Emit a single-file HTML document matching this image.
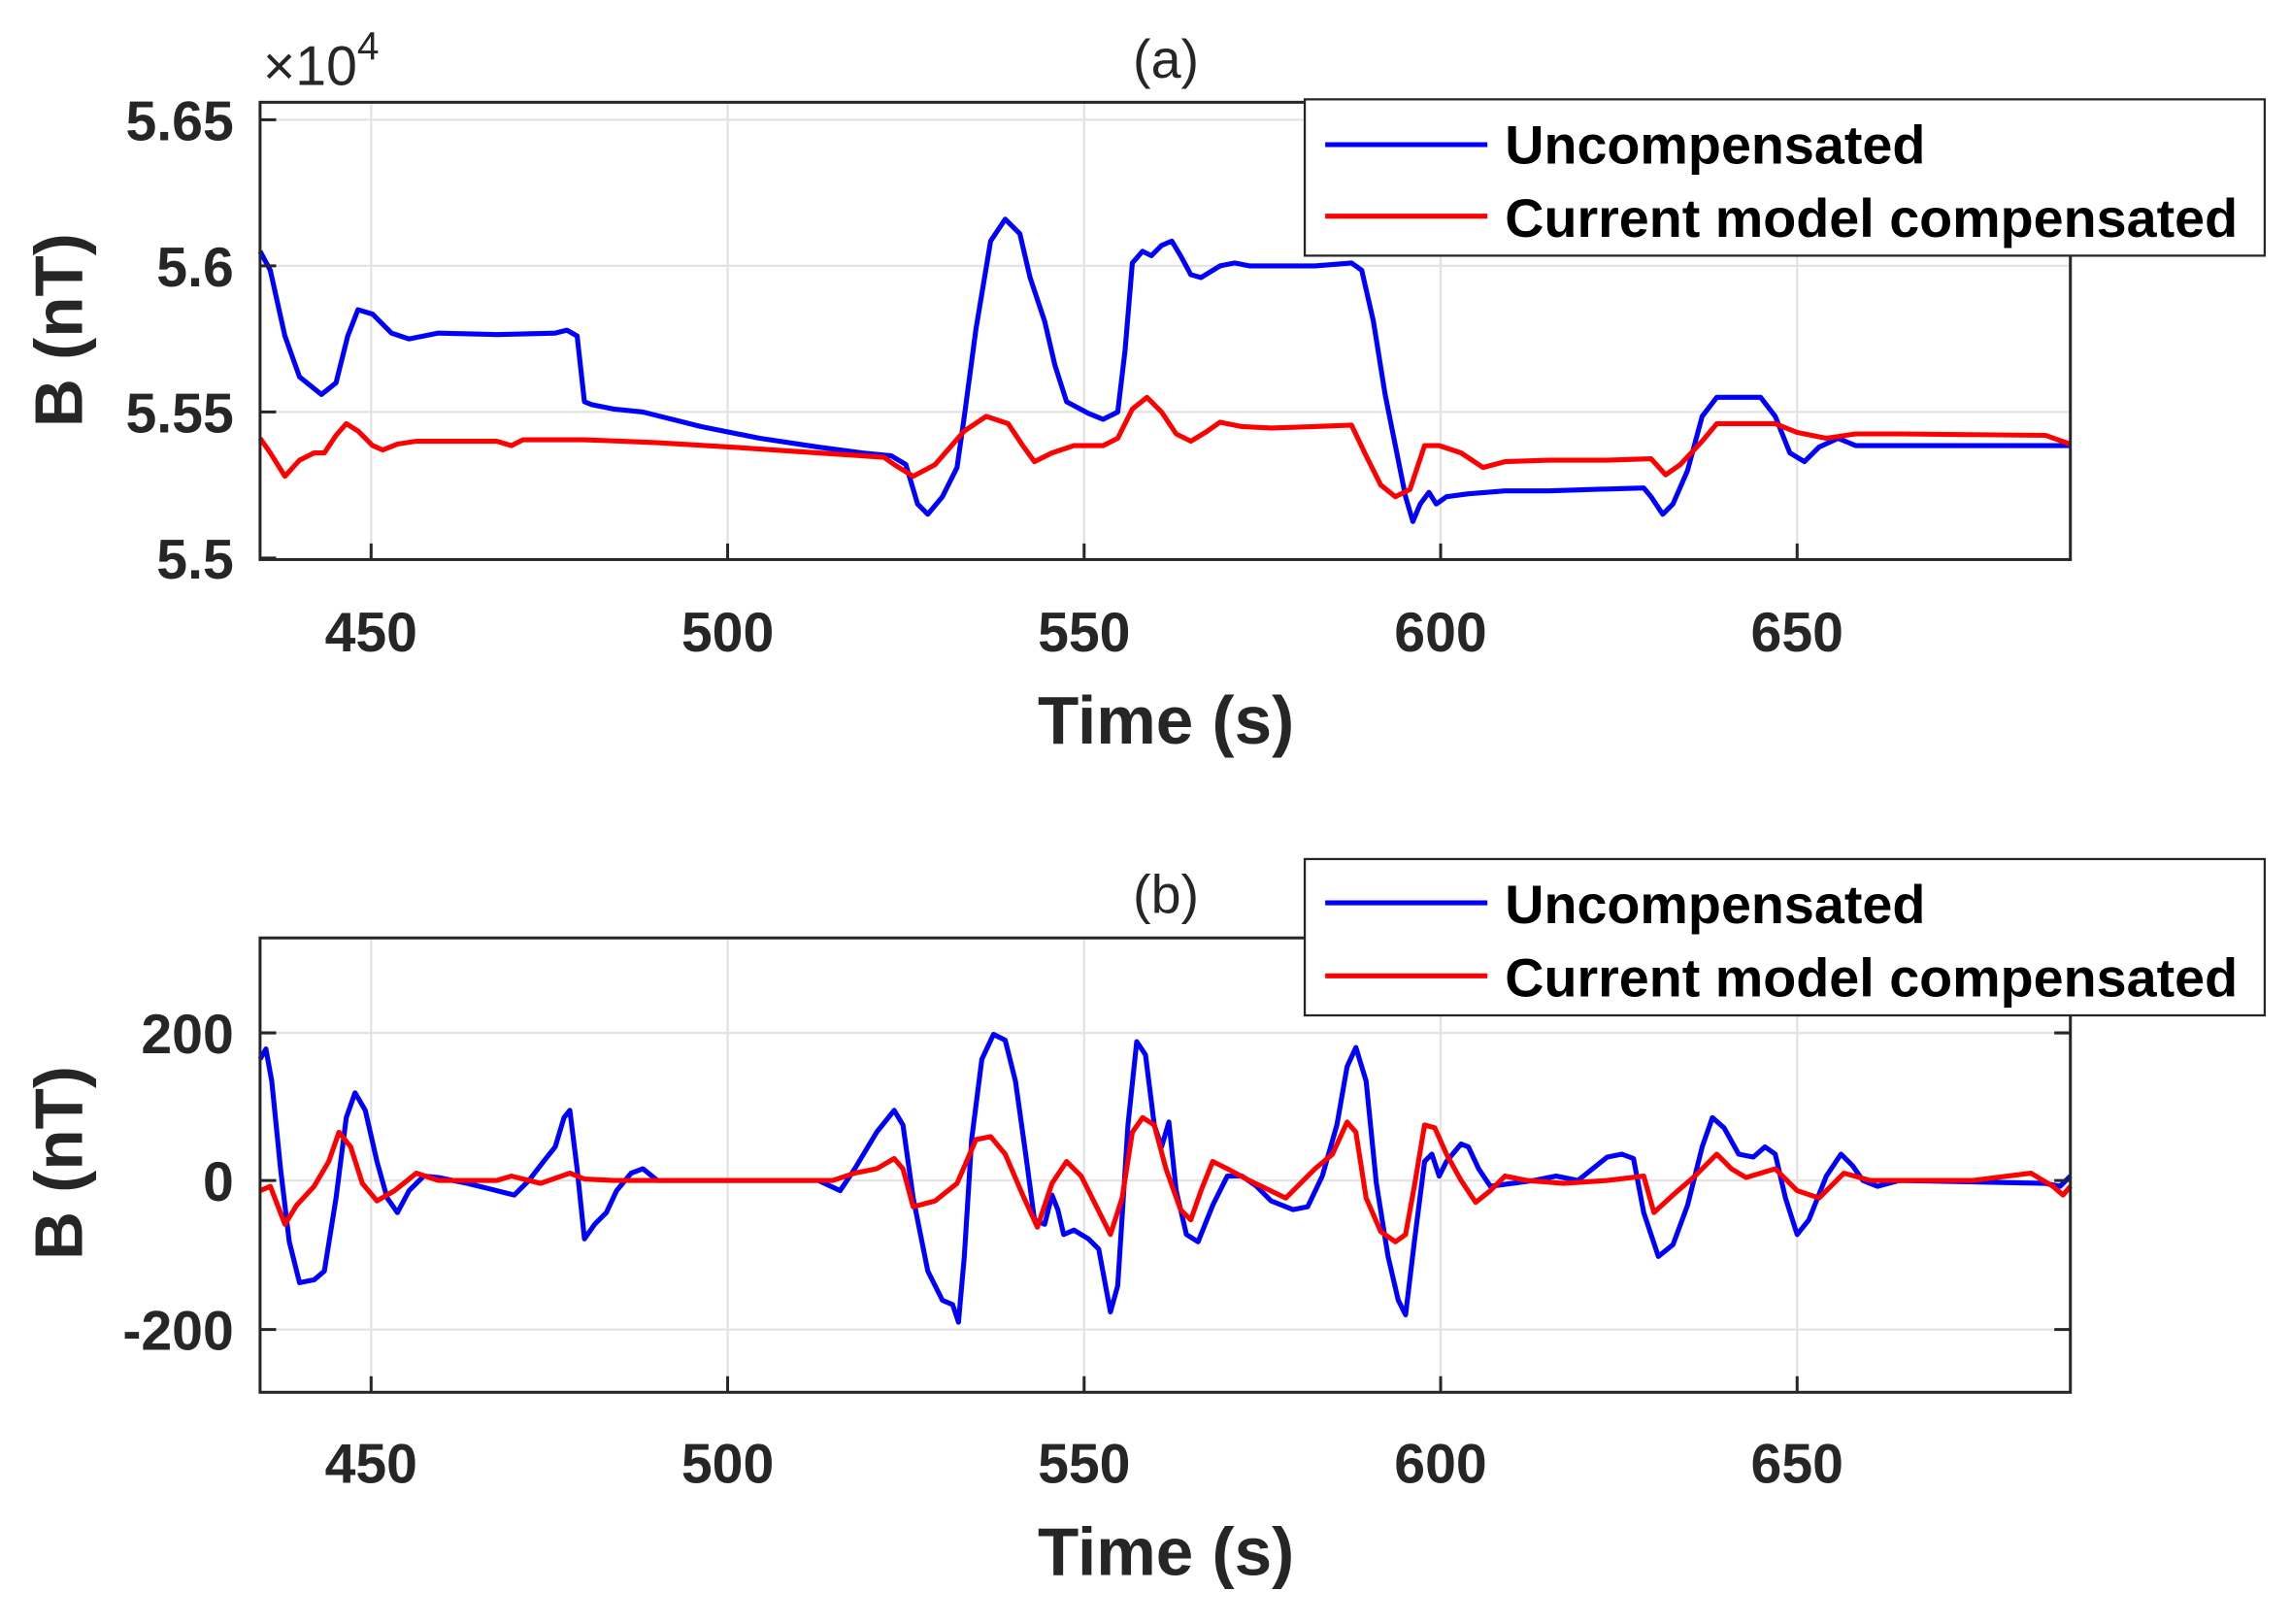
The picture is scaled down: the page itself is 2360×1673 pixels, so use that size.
<!DOCTYPE html>
<html><head><meta charset="utf-8"><style>
html,body{margin:0;padding:0;background:#fff;}
svg{display:block;}
text{font-family:"Liberation Sans",Arial,sans-serif;fill:#262626;}
.t{font-size:38px;font-weight:bold;}
.l{font-size:46px;font-weight:bold;}
.g{font-size:37px;font-weight:bold;fill:#000;}
</style></head><body>
<svg width="2360" height="1673" viewBox="0 0 1568 1111.6" preserveAspectRatio="none" xmlns="http://www.w3.org/2000/svg">
<rect width="1568" height="1112" fill="#fff"/>
<!-- TOP PLOT -->
<g stroke="#e3e3e3" stroke-width="1.5">
<line x1="254" y1="70" x2="254" y2="383"/><line x1="498" y1="70" x2="498" y2="383"/><line x1="742" y1="70" x2="742" y2="383"/><line x1="986" y1="70" x2="986" y2="383"/><line x1="1230" y1="70" x2="1230" y2="383"/>
<line x1="178" y1="82" x2="1417" y2="82"/><line x1="178" y1="182" x2="1417" y2="182"/><line x1="178" y1="282" x2="1417" y2="282"/>
</g>
<polyline fill="none" stroke="#0000ff" stroke-width="3.4" stroke-linejoin="round" points="178,172 185,185 195,230 205,258 220,270 230,262 238,230 245,212 255,215 268,228 280,232 300,228 340,229 380,228 388,226 395,230 400,275 405,277 420,280 440,282 480,292 520,300 560,306 590,310 610,312 620,318 628,345 635,352 645,340 655,320 660,285 668,225 678,165 688,150 698,160 705,190 715,220 722,250 730,275 745,283 755,287 765,282 770,240 775,180 782,172 788,175 795,168 802,165 808,175 815,188 822,190 835,182 845,180 855,182 870,182 900,182 925,180 932,185 940,220 948,270 955,305 962,340 967,357 972,345 978,337 983,345 990,340 1005,338 1030,336 1060,336 1090,335 1125,334 1130,340 1138,352 1145,345 1155,322 1165,285 1175,272 1205,272 1215,285 1225,310 1235,316 1245,306 1258,300 1270,305 1300,305 1400,305 1417,305"/>
<polyline fill="none" stroke="#ff0000" stroke-width="3.4" stroke-linejoin="round" points="178,300 185,310 195,326 205,315 215,310 222,310 230,298 237,290 245,295 255,305 262,308 272,304 285,302 340,302 350,305 358,301 400,301 450,303 500,306 560,310 605,313 612,318 625,326 640,318 660,295 675,285 690,290 700,305 708,316 720,310 735,305 755,305 765,300 775,280 785,272 795,282 805,297 815,302 825,296 835,289 850,292 870,293 900,292 925,291 935,312 945,332 955,340 965,335 975,305 985,305 1000,310 1015,320 1030,316 1060,315 1100,315 1130,314 1140,325 1150,318 1165,302 1175,290 1200,290 1215,290 1230,296 1250,300 1270,297 1300,297 1400,298 1417,304"/>
<rect x="178" y="70" width="1239" height="313" fill="none" stroke="#262626" stroke-width="2"/>
<g stroke="#262626" stroke-width="2">
<line x1="254" y1="383" x2="254" y2="372"/><line x1="498" y1="383" x2="498" y2="372"/><line x1="742" y1="383" x2="742" y2="372"/><line x1="986" y1="383" x2="986" y2="372"/><line x1="1230" y1="383" x2="1230" y2="372"/>
<line x1="178" y1="82" x2="189" y2="82"/><line x1="178" y1="182" x2="189" y2="182"/><line x1="178" y1="282" x2="189" y2="282"/><line x1="178" y1="382" x2="189" y2="382"/>
</g>
<g text-anchor="end">
<text x="160" y="96" class="t">5.65</text><text x="160" y="196" class="t">5.6</text><text x="160" y="296" class="t">5.55</text><text x="160" y="396" class="t">5.5</text>
</g>
<g text-anchor="middle">
<text x="254" y="446" class="t">450</text><text x="498" y="446" class="t">500</text><text x="742" y="446" class="t">550</text><text x="986" y="446" class="t">600</text><text x="1230" y="446" class="t">650</text>
<text x="798" y="509" class="l">Time (s)</text>
<text x="798" y="53" style="font-size:37px">(a)</text>
</g>
<text x="180" y="58" style="font-size:38px">×10<tspan dy="-17" style="font-size:27px">4</tspan></text>
<text transform="translate(56,226) rotate(-90)" text-anchor="middle" class="l">B (nT)</text>
<rect x="893" y="68" width="657" height="107" fill="#fff" stroke="#262626" stroke-width="1.5"/>
<line x1="907" y1="99" x2="1018" y2="99" stroke="#0000ff" stroke-width="3.4"/>
<line x1="907" y1="148" x2="1018" y2="148" stroke="#ff0000" stroke-width="3.4"/>
<text x="1030" y="112" class="g">Uncompensated</text>
<text x="1030" y="162" class="g">Current model compensated</text>

<!-- BOTTOM PLOT -->
<g stroke="#e3e3e3" stroke-width="1.5">
<line x1="254" y1="642" x2="254" y2="953"/><line x1="498" y1="642" x2="498" y2="953"/><line x1="742" y1="642" x2="742" y2="953"/><line x1="986" y1="642" x2="986" y2="953"/><line x1="1230" y1="642" x2="1230" y2="953"/>
<line x1="178" y1="707" x2="1417" y2="707"/><line x1="178" y1="808" x2="1417" y2="808"/><line x1="178" y1="910" x2="1417" y2="910"/>
</g>
<polyline fill="none" stroke="#0000ff" stroke-width="3.4" stroke-linejoin="round" points="178,725 182,718 186,740 192,800 198,850 205,878 215,876 222,870 230,820 237,765 243,748 250,760 258,795 265,820 272,830 280,815 290,805 300,806 320,810 340,815 352,818 362,808 372,795 380,785 386,765 390,760 395,800 400,848 407,838 415,830 422,815 432,803 440,800 450,808 500,808 560,808 575,815 585,800 600,775 612,760 618,770 625,820 635,870 645,890 652,893 656,905 660,860 665,780 672,725 680,708 688,712 695,740 702,790 708,835 715,838 720,818 724,828 728,845 735,842 745,848 752,855 760,898 765,880 772,770 778,713 784,722 790,770 795,785 800,768 805,815 812,845 820,850 830,825 840,805 850,805 860,812 870,822 885,828 895,826 905,805 915,770 922,730 928,717 935,740 942,810 950,860 957,890 962,900 968,850 975,795 980,790 985,805 990,795 1000,783 1005,785 1012,800 1020,812 1035,810 1050,808 1065,805 1080,808 1090,800 1100,792 1110,790 1118,793 1125,830 1135,860 1145,852 1155,825 1165,785 1172,765 1180,772 1190,790 1200,792 1208,785 1215,790 1222,820 1230,845 1238,835 1250,805 1260,790 1268,798 1275,808 1285,812 1300,808 1400,810 1410,812 1417,805"/>
<polyline fill="none" stroke="#ff0000" stroke-width="3.4" stroke-linejoin="round" points="178,815 185,812 195,838 203,825 215,812 225,795 232,775 240,785 248,810 258,822 270,815 285,803 300,808 340,808 350,805 370,810 390,803 400,807 420,808 500,808 570,808 585,803 600,800 612,793 618,800 625,826 640,822 655,810 668,780 678,778 688,790 700,818 710,840 720,810 730,795 740,805 750,825 760,845 768,820 775,775 782,765 790,770 798,800 808,828 815,835 822,815 830,795 840,800 855,808 880,820 900,800 912,790 922,768 928,775 935,820 945,843 955,850 962,845 968,812 975,770 982,772 990,790 1000,808 1010,823 1020,815 1030,805 1045,808 1070,810 1100,808 1125,805 1132,830 1145,818 1160,805 1175,790 1185,800 1195,806 1215,800 1230,815 1245,820 1262,803 1280,808 1300,808 1350,808 1390,803 1405,812 1412,818 1417,812"/>
<rect x="178" y="642" width="1239" height="311" fill="none" stroke="#262626" stroke-width="2"/>
<g stroke="#262626" stroke-width="2">
<line x1="254" y1="953" x2="254" y2="942"/><line x1="498" y1="953" x2="498" y2="942"/><line x1="742" y1="953" x2="742" y2="942"/><line x1="986" y1="953" x2="986" y2="942"/><line x1="1230" y1="953" x2="1230" y2="942"/>
<line x1="178" y1="707" x2="189" y2="707"/><line x1="178" y1="808" x2="189" y2="808"/><line x1="178" y1="910" x2="189" y2="910"/>
<line x1="1417" y1="707" x2="1406" y2="707"/><line x1="1417" y1="808" x2="1406" y2="808"/><line x1="1417" y1="910" x2="1406" y2="910"/>
</g>
<g text-anchor="end">
<text x="160" y="721" class="t">200</text><text x="160" y="822" class="t">0</text><text x="160" y="924" class="t">-200</text>
</g>
<g text-anchor="middle">
<text x="254" y="1015" class="t">450</text><text x="498" y="1015" class="t">500</text><text x="742" y="1015" class="t">550</text><text x="986" y="1015" class="t">600</text><text x="1230" y="1015" class="t">650</text>
<text x="798" y="1078" class="l">Time (s)</text>
<text x="798" y="625" style="font-size:37px">(b)</text>
</g>
<text transform="translate(56,796) rotate(-90)" text-anchor="middle" class="l">B (nT)</text>
<rect x="893" y="588" width="657" height="107" fill="#fff" stroke="#262626" stroke-width="1.5"/>
<line x1="907" y1="618" x2="1018" y2="618" stroke="#0000ff" stroke-width="3.4"/>
<line x1="907" y1="668" x2="1018" y2="668" stroke="#ff0000" stroke-width="3.4"/>
<text x="1030" y="632" class="g">Uncompensated</text>
<text x="1030" y="682" class="g">Current model compensated</text>
</svg>
</body></html>
